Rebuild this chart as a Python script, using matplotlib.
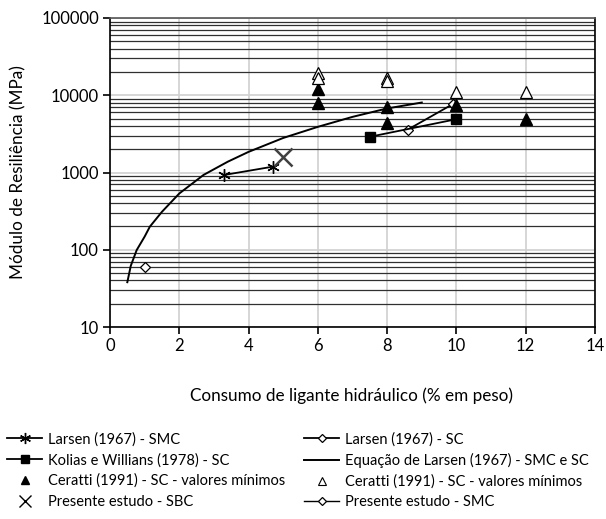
import matplotlib
matplotlib.use("Agg")
import matplotlib.pyplot as plt
from matplotlib.lines import Line2D
from matplotlib.ticker import FixedLocator, NullFormatter, LogLocator

plt.rcParams['font.family'] = ['Lato', 'DejaVu Sans']

# Larsen (1967) - SMC
larsen_smc_x = [3.3, 4.7]
larsen_smc_y = [930, 1190]
# Larsen (1967) - SC
larsen_sc_x = [8.6, 9.9]
larsen_sc_y = [3600, 7700]
# Kolias e Willians (1978) - SC
kolias_x = [7.5, 10.0]
kolias_y = [2900, 4900]
# Equação de Larsen (1967)
eq_x = [0.5, 0.6, 0.77, 1.0, 1.15, 1.5, 2.0, 2.7, 3.4, 4.0, 5.0, 6.0, 7.0, 8.0, 9.0]
eq_y = [38, 62, 99, 148, 199, 310, 535, 930, 1380, 1850, 2800, 3900, 5250, 6750, 8050]
# Ceratti (1991) - filled / open triangles
ceratti_min_x = [6, 6, 8, 8, 10, 12]
ceratti_min_y = [12000, 7900, 7100, 4350, 7400, 5000]
ceratti_max_x = [6, 6, 8, 8, 10, 12]
ceratti_max_y = [19500, 16500, 16800, 15500, 11100, 11100]
# Presente estudo
sbc_x = [5.0]
sbc_y = [1600]
smc_x = [1.0]
smc_y = [60]

labels = ['Larsen (1967) - SMC', 'Larsen (1967) - SC',
          'Kolias e Willians (1978) - SC', 'Equação de Larsen (1967) - SMC e SC',
          'Ceratti (1991) - SC - valores mínimos', 'Ceratti (1991) - SC - valores mínimos',
          'Presente estudo - SBC', 'Presente estudo - SMC']

fig = plt.figure(figsize=(6.06, 5.19), dpi=100)
ax = fig.add_axes([110 / 606, 1 - 327 / 519, 485 / 606, 309 / 519])

ax.plot(larsen_smc_x, larsen_smc_y, '-', color='black', lw=1.3,
        marker=(6, 2, 0), ms=9, mew=1.0)
ax.plot(larsen_sc_x, larsen_sc_y, '-', color='black', lw=1.3,
        marker='D', ms=5, mfc='white', mec='black', mew=0.9)
ax.plot(kolias_x, kolias_y, '-', color='black', lw=1.3, marker='s', ms=7)
ax.plot(eq_x, eq_y, '-', color='black', lw=1.4)
ax.plot(ceratti_min_x, ceratti_min_y, linestyle='none', marker='^', ms=8, color='black')
ax.plot(ceratti_max_x, ceratti_max_y, linestyle='none', marker='^', ms=8,
        mfc='white', mec='black', mew=0.9)
ax.plot(sbc_x, sbc_y, linestyle='none', marker='x', ms=13, mew=1.8, color='#404040')
ax.plot(smc_x, smc_y, '-', color='black', lw=1.0, marker='D', ms=5,
        mfc='white', mec='black', mew=0.9)

ax.set_yscale('log')
ax.set_xlim(0, 14)
ax.set_ylim(10, 100000)
ax.set_xticks(range(0, 15, 2))
ax.yaxis.set_major_locator(FixedLocator([10, 100, 1000, 10000, 100000]))
ax.yaxis.set_minor_locator(LogLocator(base=10, subs=range(2, 10)))
ax.yaxis.set_minor_formatter(NullFormatter())
ax.set_yticklabels(['10', '100', '1000', '10000', '100000'])

ax.grid(True, which='major', axis='both', color='#d0d0d0', lw=1.2, zorder=0)
ax.grid(True, which='minor', axis='y', color='#303030', lw=0.9, zorder=0)
ax.set_axisbelow(True)

ax.tick_params(axis='both', which='major', direction='out', length=5, width=1.2,
               labelsize=12, colors='black', pad=3)
ax.tick_params(axis='y', which='minor', length=0)
for s in ['left', 'bottom', 'right']:
    ax.spines[s].set_linewidth(1.2)
    ax.spines[s].set_color('black')
ax.spines['top'].set_color('#555555')
ax.spines['top'].set_linewidth(1.2)

fig.text(18 / 606, 1 - 172 / 519, 'Módulo de Resiliência (MPa)', rotation=90,
         ha='center', va='center', fontsize=12.3)
fig.text(352 / 606, 1 - 396 / 519, 'Consumo de ligante hidráulico (% em peso)',
         ha='center', va='center', fontsize=12.3)

# legend handles with the smaller markers used in the key
lh = [
    Line2D([], [], color='black', lw=1.3, marker=(6, 2, 0), ms=8, mew=1.0),
    Line2D([], [], color='black', lw=1.3, marker='D', ms=4.5, mfc='white', mec='black', mew=0.9),
    Line2D([], [], color='black', lw=1.3, marker='s', ms=6),
    Line2D([], [], color='black', lw=1.4),
    Line2D([], [], linestyle='none', marker='^', ms=6, color='black'),
    Line2D([], [], linestyle='none', marker='^', ms=6, mfc='white', mec='black', mew=0.8),
    Line2D([], [], linestyle='none', marker='x', ms=8, mew=1.0, color='black'),
    Line2D([], [], color='black', lw=1.0, marker='D', ms=4.5, mfc='white', mec='black', mew=0.9),
]

leg_kw = dict(frameon=False, fontsize=10.5, handlelength=2.4, handletextpad=0.4,
              labelspacing=0.45, borderaxespad=0, borderpad=0)
fig.legend(handles=lh[0::2], labels=labels[0::2], loc='upper left',
           bbox_to_anchor=(7 / 606, 1 - 432 / 519), **leg_kw)
fig.legend(handles=lh[1::2], labels=labels[1::2], loc='upper left',
           bbox_to_anchor=(304 / 606, 1 - 432 / 519), **leg_kw)

fig.savefig('out.png', dpi=100)
